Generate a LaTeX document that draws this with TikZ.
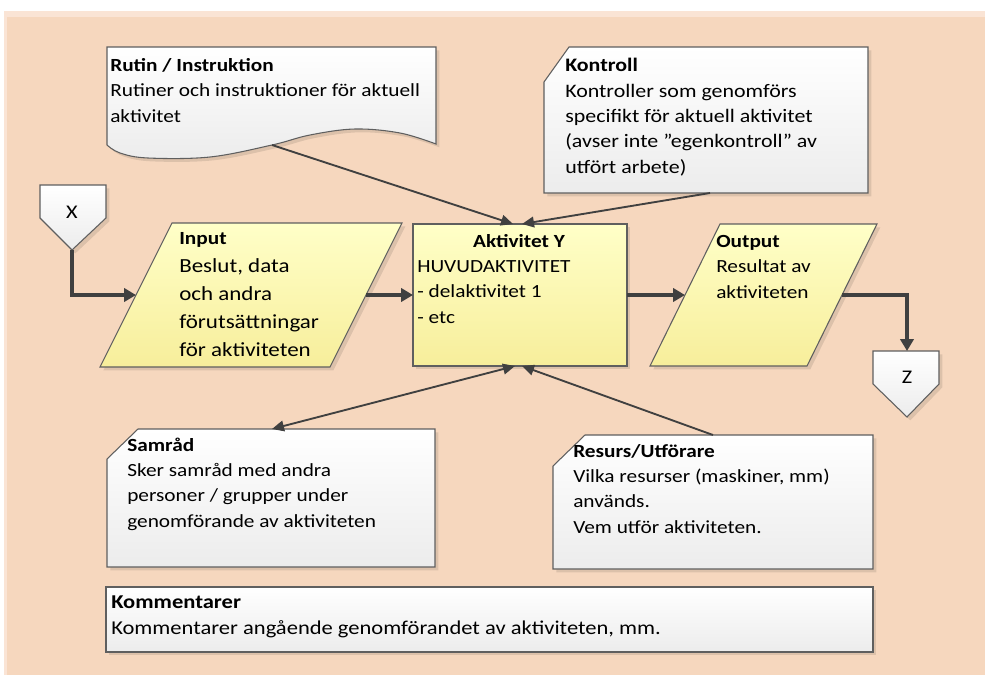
\documentclass[tikz,border=0pt]{standalone}
\usepackage{fontspec}
\setmainfont{Carlito}[FakeStretch=1.15]
\usetikzlibrary{arrows.meta,shadows}

\definecolor{bakgrund}{RGB}{246,215,190}
\definecolor{bakkant}{RGB}{250,228,213}
\definecolor{linjegra}{RGB}{64,64,64}
\definecolor{ramgra}{RGB}{95,95,95}
\definecolor{vitbotten}{RGB}{236,236,236}
\definecolor{gultopp}{RGB}{255,255,200}
\definecolor{gulbotten}{RGB}{247,238,155}

\tikzset{
  ram/.style={draw=ramgra, line width=0.8pt,
    drop shadow={shadow xshift=2.5pt, shadow yshift=-2.5pt, fill=black, opacity=0.10}},
  vitform/.style={ram, top color=white, bottom color=vitbotten},
  gulform/.style={ram, top color=gultopp, bottom color=gulbotten},
  tunnpil/.style={draw=linjegra, line width=1.4pt, -{Triangle[length=9pt,width=8pt]}},
  tjockpil/.style={draw=linjegra, line width=3.4pt, -{Triangle[length=9pt,width=10pt]}},
  % texten placeras vid sista radens baslinje
  brodtext/.style={anchor=base west, align=left, inner sep=0pt, font=\fontsize{13.9}{19}\selectfont},
  stortext/.style={anchor=base west, align=left, inner sep=0pt, font=\fontsize{15}{21}\selectfont},
  bokstav/.style={inner sep=0pt, font=\fontsize{14.5}{18}\selectfont},
}
\newcommand{\rubrik}[1]{{\bfseries #1}}
\newcommand{\gulrubrik}[1]{{\fontsize{13.9}{21}\selectfont\bfseries #1}}

\begin{document}
\begin{tikzpicture}[x=0.75pt, y=-0.75pt]
    \useasboundingbox (0,0) rectangle (985,675);

    % 绘制背景
    \fill[bakkant] (4,11) rectangle (985,675);
    \fill[bakgrund] (7,17) rectangle (985,675);

    % 绘制 Rutin / Instruktion
    \draw[vitform] (107,47) -- (436,47) -- plot[smooth, tension=0.6] coordinates {(436,144)
        (400,133) (355,129) (310,135) (272,145) (210,157) (148,158) (120,153) (107,145)} -- cycle;
    \coordinate (rutin) at (272,145);
    \node[brodtext] (rutintext) at (110,122)
        {\rubrik{Rutin / Instruktion}\\Rutiner och instruktioner för aktuell\\aktivitet};

    % 绘制 Kontroll
    \draw[vitform] (569,47) -- (868,47) -- (868,193) -- (544,193) -- (544,82) -- cycle;
    \coordinate (kontroll) at (710,193);
    \node[brodtext, font=\fontsize{14.3}{19}\selectfont] (kontrolltext) at (565,173)
        {\rubrik{Kontroll}\\Kontroller som genomförs\\specifikt för aktuell aktivitet\\(avser inte ”egenkontroll” av\\utfört arbete)};

    % 绘制 X 与 Z
    \draw[vitform] (40,185) -- (106,185) -- (106,218) -- (72,250) -- (40,218) -- cycle;
    \node[bokstav] (x) at (72,212) {X};
    \coordinate (xspets) at (72,250);
    \draw[vitform] (873,351) -- (939,351) -- (939,384) -- (907,417) -- (873,384) -- cycle;
    \node[bokstav] (z) at (907,377) {Z};
    \coordinate (ztopp) at (907,351);

    % 绘制 Input
    \draw[gulform] (172,223) -- (402,223) -- (330,367) -- (100,367) -- cycle;
    \coordinate (invast) at (136,295);
    \coordinate (inost) at (366,295);
    \node[stortext] (inputtext) at (179,356)
        {\gulrubrik{Input}\\Beslut, data\\och andra\\förutsättningar\\för aktiviteten};

    % 绘制 Aktivitet Y
    \draw[gulform] (413,224) rectangle (627,366);
    \coordinate (aktvast) at (413,295);
    \coordinate (aktost) at (627,295);
    \coordinate (akttopp1) at (513,224);
    \coordinate (akttopp2) at (522,224);
    \coordinate (aktbotten1) at (515,366);
    \coordinate (aktbotten2) at (522,366);
    \node[inner sep=0pt, anchor=base, font=\fontsize{13.9}{19}\selectfont\bfseries] (akttitel) at (519,247) {Aktivitet Y};
    \node[brodtext] (akttext) at (417,323)
        {HUVUDAKTIVITET\\- delaktivitet 1\\- etc};

    % 绘制 Output
    \draw[gulform] (720,224) -- (877,224) -- (807,366) -- (650,366) -- cycle;
    \coordinate (utvast) at (685,295);
    \coordinate (utost) at (842,295);
    \node[brodtext] (uttext) at (716,298)
        {\rubrik{Output}\\Resultat av\\aktiviteten};

    % 绘制 Samråd
    \draw[vitform] (138,429) -- (435,429) -- (435,567) -- (107,567) -- (107,459) -- cycle;
    \coordinate (samrad) at (272,429);
    \node[brodtext] (samradtext) at (127,527)
        {\rubrik{Samråd}\\Sker samråd med andra\\personer / grupper under\\genomförande av aktiviteten};

    % 绘制 Resurs/Utförare
    \draw[vitform] (585,435) -- (873,435) -- (873,569) -- (553,569) -- (553,466) -- cycle;
    \coordinate (resurs) at (713,435);
    \node[brodtext] (resurstext) at (573,533)
        {\rubrik{Resurs/Utförare}\\Vilka resurser (maskiner, mm)\\används.\\Vem utför aktiviteten.};

    % 绘制 Kommentarer
    \draw[vitform] (106,587) rectangle (873,652);
    \node[brodtext, font=\fontsize{14.7}{19}\selectfont] (kommtext) at (111,634)
        {\rubrik{Kommentarer}\\Kommentarer angående genomförandet av aktiviteten, mm.};

    % 绘制连接线
    \draw[tjockpil] (xspets) |- (invast);
    \draw[tjockpil] (inost) -- (aktvast);
    \draw[tjockpil] (aktost) -- (utvast);
    \draw[tjockpil] (utost) -| (ztopp);
    \draw[tunnpil] (rutin) -- (akttopp1);
    \draw[tunnpil] (kontroll) -- (akttopp2);
    \draw[tunnpil, {Triangle[length=9pt,width=8pt]}-{Triangle[length=9pt,width=8pt]}] (samrad) -- (aktbotten1);
    \draw[tunnpil] (resurs) -- (aktbotten2);

\end{tikzpicture}
\end{document}
